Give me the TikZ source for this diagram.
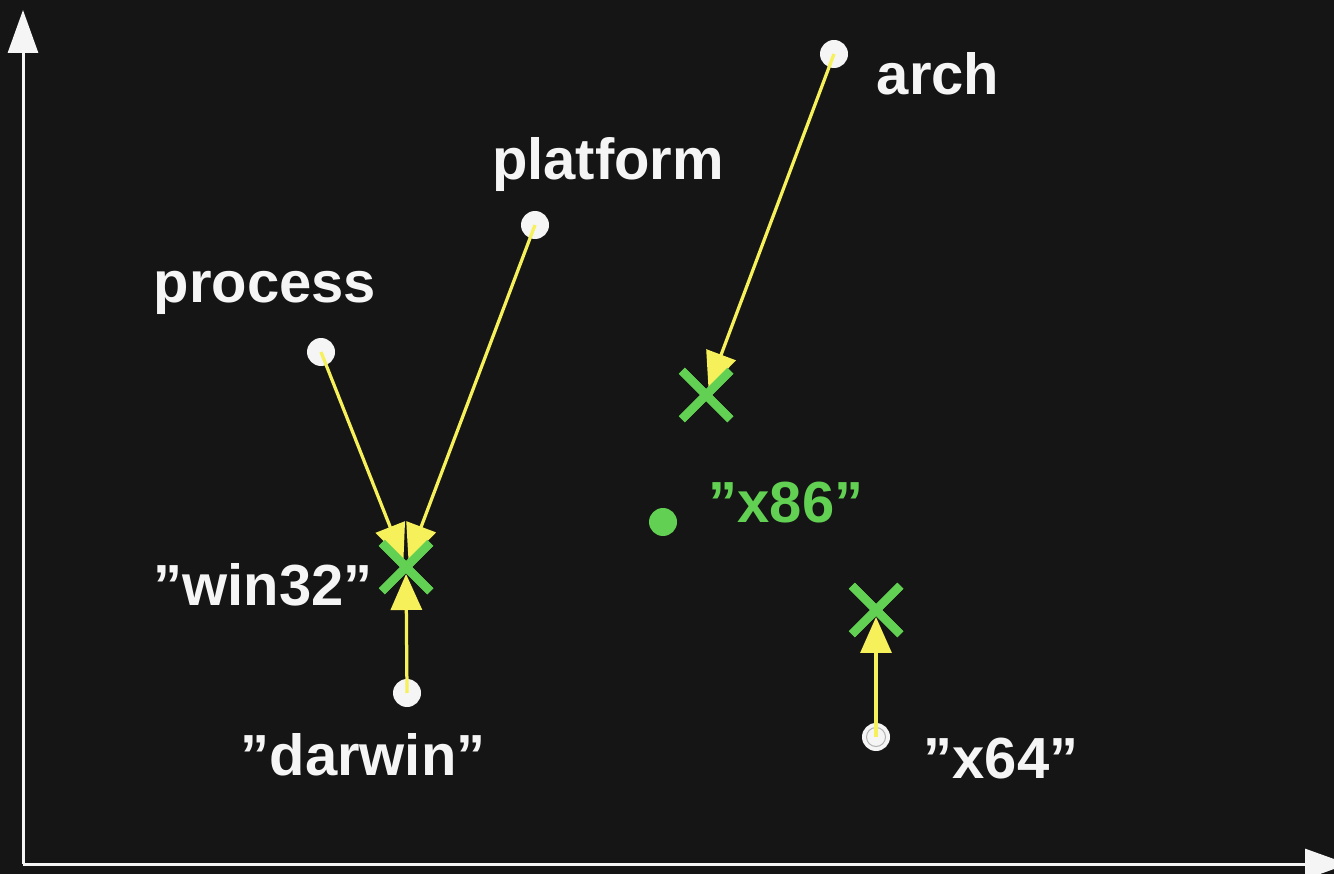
\documentclass[tikz,border=0pt]{standalone}
\usepackage{fontspec}
\setmainfont{Liberation Sans}
\usepackage{xcolor}
\usepackage{tikz}
\usetikzlibrary{arrows.meta}
\usetikzlibrary{shapes.misc}
\definecolor{bg}{HTML}{151515}
\definecolor{chalk}{HTML}{F5F5F5}
\definecolor{marker}{HTML}{F6F05A}
\definecolor{leaf}{HTML}{62D052}

\begin{document}
\begin{tikzpicture}[x=0.02cm, y=-0.02cm,
	every node/.style={font=\fontsize{33}{40}\selectfont\bfseries},
	label/.style={text=chalk, anchor=base, inner sep=0},
	dot/.style={circle, fill=chalk, inner sep=0, minimum size=0.56cm},
	cross/.style={cross out, draw=leaf, line width=0.17cm, inner sep=0, minimum size=0.8cm},
	ptr/.style={draw=marker, line width=0.065cm, -{Triangle[length=0.72cm, width=0.62cm]}, shorten >=0.14cm},
	axis/.style={draw=chalk, line width=0.06cm, -{Triangle[length=0.86cm, width=0.6cm]}}]
	\fill[bg] (0,0) rectangle (1334,874);
	\clip (0,0) rectangle (1334,874);
	% axes
	\coordinate (Origin) at (23,864);
	\coordinate (Y End) at (23,10);
	\coordinate (X End) at (1348,864);
	\draw[axis] (Origin) -- (Y End);
	\draw[axis] (Origin) -- (X End);
	% points
	\node[dot] (Process) at (321,352) {};
	\node[dot] (Platform) at (535,225) {};
	\node[dot] (Arch) at (834,54) {};
	\node[dot] (Darwin) at (407,693) {};
	\node[dot, path picture={\draw[gray!60, line width=0.02cm] (path picture bounding box.center) circle (0.19cm);}] (X64) at (876,737) {};
	\node[dot, fill=leaf] (X86) at (663,522) {};
	\node[cross] (Win32) at (406,567) {};
	\node[cross] (Arch Mean) at (706,395) {};
	\node[cross] (X64 Mean) at (876,610) {};
	% labels
	\node[label] (Process Label) at (265,303) {process};
	\node[label] (Platform Label) at (608,180) {platform};
	\node[label] (Arch Label) at (938,95) {arch};
	\node[label] (Win32 Label) at (263,605) {”win32”};
	\node[label] (Darwin Label) at (363,775) {”darwin”};
	\node[label, text=leaf] (X86 Label) at (786,522) {”x86”};
	\node[label] (X64 Label) at (1001,778) {”x64”};
	% arrows
	\draw[ptr] (Process.center) -- (Win32.center);
	\draw[ptr] (Platform.center) -- (Win32.center);
	\draw[ptr] (Darwin.center) -- (Win32.center);
	\draw[ptr] (Arch.center) -- (Arch Mean.center);
	\draw[ptr] (X64.center) -- (X64 Mean.center);
	% crosses on top
	\node[cross] at (Win32) {};
	\node[cross] at (Arch Mean) {};
	\node[cross] at (X64 Mean) {};
\end{tikzpicture}
\end{document}
